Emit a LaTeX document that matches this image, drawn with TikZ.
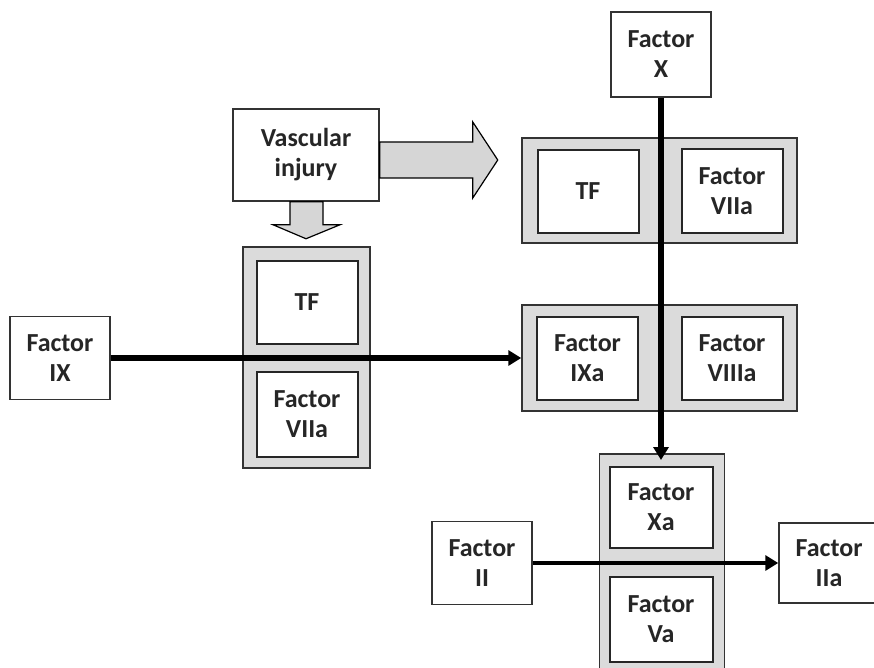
\documentclass[tikz,border=0pt]{standalone}
\usepackage{fontspec}
\setmainfont{Carlito}
\usetikzlibrary{arrows.meta}

\begin{document}
\begin{tikzpicture}
  [x=1pt,y=-1pt,
   every node/.style={font=\bfseries\fontsize{26}{30}\selectfont,align=center,text=black!85},
   factor/.style={draw=black!80,line width=1.5pt,fill=white,minimum width=100pt,minimum height=83pt},
   complex/.style={draw=black!80,line width=1.5pt,fill=black!14},
   part/.style={draw=black!85,line width=2pt,fill=white,minimum width=101pt,minimum height=83pt},
   bigarrow/.style={draw=black,line width=1.2pt,fill=black!16},
   flow/.style={line width=6pt,-{Triangle[length=13pt,width=15pt]}}]

  \fill[white] (0,0) rectangle (874,668);
  \useasboundingbox (0,0) rectangle (874,668);

  % complexes
  \node[complex,minimum width=275pt,minimum height=105pt] (cTF) at (659.5,190.5) {};
  \node[complex,minimum width=275pt,minimum height=106pt] (cIX) at (659.5,358) {};
  \node[complex,minimum width=127pt,minimum height=221pt] (cL) at (306.5,357.5) {};
  \node[complex,minimum width=125pt,minimum height=218pt] (cXa) at (662,563) {};

  \node[part] (tfR) at (588,191.5) {TF};
  \node[part] (viiaR) at (732,191) {Factor\\VIIa};
  \node[part] (ixa) at (587.5,358.5) {Factor\\IXa};
  \node[part] (viiia) at (732,358.5) {Factor\\VIIIa};
  \node[part] (tfL) at (307,302.5) {TF};
  \node[part,minimum height=85pt] (viiaL) at (307,414.5) {Factor\\VIIa};
  \node[part,minimum width=103pt,minimum height=81pt] (xa) at (661,507.5) {Factor\\Xa};
  \node[part,minimum width=103pt,minimum height=85pt] (va) at (661,619.5) {Factor\\Va};

  % single factors
  \node[factor,minimum height=85pt] (fX) at (661,54.5) {Factor\\X};
  \node[factor,minimum width=146pt,minimum height=92pt] (inj) at (306,155) {Vascular\\injury};
  \node[factor] (fIX) at (60,358) {Factor\\IX};
  \node[factor] (fII) at (482,563) {Factor\\II};
  \node[factor,minimum height=80pt] (fIIa) at (829,563) {Factor\\IIa};

  % block arrows from the injury
  \draw[bigarrow] ([yshift=13pt]inj.east) -- ++(93,0) -- ++(0,-20) -- ++(25,38)
    -- ++(-25,38) -- ++(0,-20) -- ++(-93,0) -- cycle;
  \draw[bigarrow] ([xshift=-16pt]inj.south) -- ++(0,23) -- ++(-17,0) -- ++(33,14)
    -- ++(34,-14) -- ++(-17,0) -- ++(0,-23) -- cycle;

  \path[flow] (fIX) edge (cIX);
  \path[flow] (fX) edge[shorten >=6pt] (xa);
  \path[flow,line width=4.5pt] (fII) edge (fIIa);

\end{tikzpicture}
\end{document}
